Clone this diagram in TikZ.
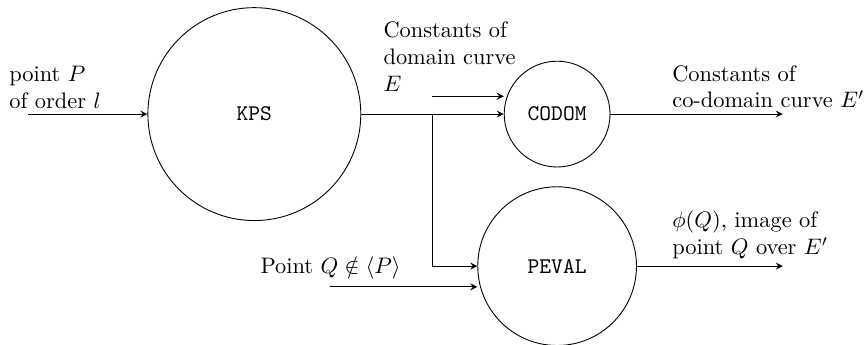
\documentclass[tikz,border=0pt]{standalone}
\usepackage{amsmath, amssymb}
\usepackage{tikz}
\usetikzlibrary{arrows,calc}
\tikzstyle{block}=[draw, circle, inner sep=0pt, font=\ttfamily]
\tikzstyle{flow}=[-stealth]
\tikzstyle{lbl}=[anchor=west, align=left, inner sep=0pt]

\begin{document}
\begin{tikzpicture}
	\useasboundingbox (-3.99,-3.61) rectangle (9.58,1.79);
	\node[block, minimum size=3.34cm] (kps) at (0,0) {KPS};
	\node[block, minimum size=1.66cm] (codom) at (4.75,0) {CODOM};
	\node[block, minimum size=2.49cm] (peval) at (4.75,-2.385) {PEVAL};
	\coordinate (pin) at (-3.55,0);
	\coordinate (split) at (2.79,0);
	\coordinate (ein) at (2.79,0.28);
	\coordinate (qin) at (1.18,-2.71);
	\coordinate (eout) at (8.29,0);
	\coordinate (phiout) at (8.29,-2.385);
	\draw[flow] (pin) -- (kps);
	\draw (kps) -- (split);
	\draw[flow] (split) -- (codom);
	\draw[flow] (ein) -- (ein -| codom.west);
	\draw[flow] (split) |- (peval);
	\draw[flow] (qin) -- (qin -| peval.west);
	\draw[flow] (codom) -- (eout);
	\draw[flow] (peval) -- (phiout);
	\node[lbl] (plbl) at (-3.85,0.42) {point $P$\\of order $l$};
	\node[lbl] (elbl) at (2.02,0.9) {Constants of\\domain curve\\$E$};
	\node[lbl] (eplbl) at (6.55,0.43) {Constants of\\co-domain curve $E'$};
	\node[lbl] (philbl) at (6.55,-1.89) {$\phi(Q)$, image of\\point $Q$ over $E'$};
	\node[lbl] (qlbl) at (0.09,-2.42) {Point $Q\notin\langle P\rangle$};
\end{tikzpicture}
\end{document}
